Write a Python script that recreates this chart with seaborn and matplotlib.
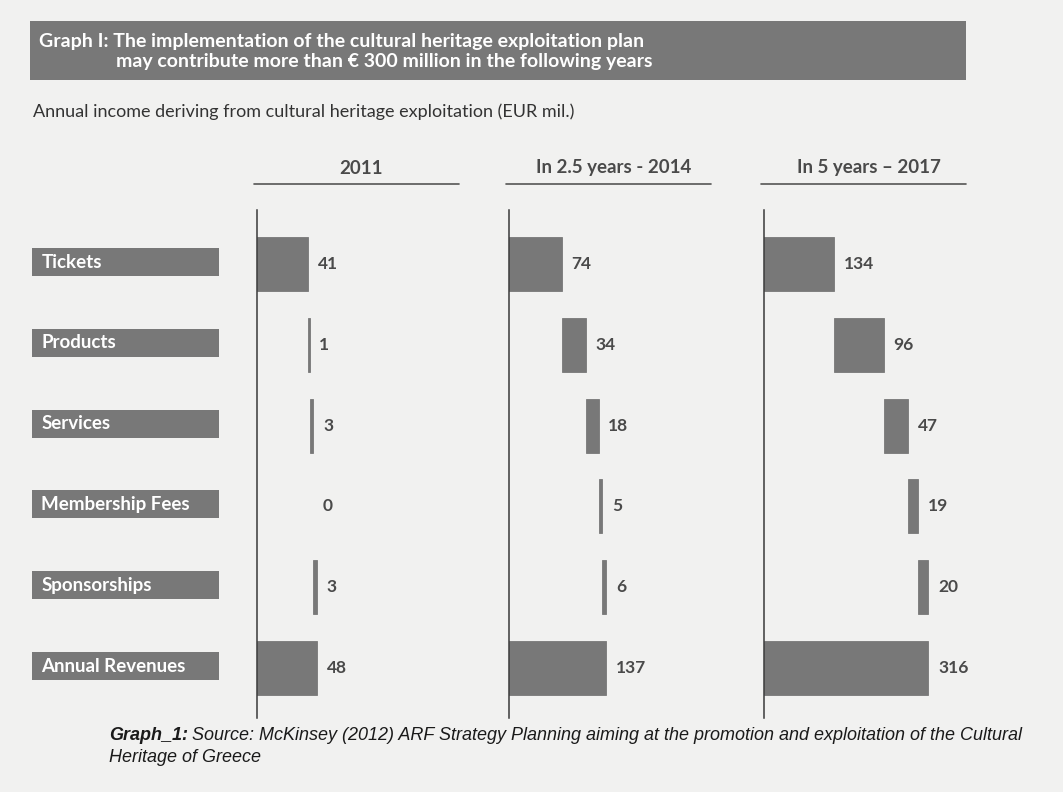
import numpy as np
import matplotlib
matplotlib.use('Agg')
import matplotlib.pyplot as plt
from matplotlib.patches import Rectangle
import seaborn as sns

# data
categories = ['Tickets', 'Products', 'Services', 'Membership Fees', 'Sponsorships', 'Annual Revenues']
periods = ['2011', 'In 2.5 years - 2014', 'In 5 years \u2013 2017']
v2011 = [41, 1, 3, 0, 3, 48]
v2014 = [74, 34, 18, 5, 6, 137]
v2017 = [134, 96, 47, 19, 20, 316]
series = [v2011, v2014, v2017]

# layout (pixel coordinates on a 1063x792 canvas)
W, H = 1063, 792
BG = '#f1f1f0'
GREY = '#787878'
TXT = '#4a4a4a'
panel_left = [257, 509, 764]
panel_w = 204
x_max = [163, 287, 392]          # per-panel scale, like the original
ax_top, ax_bot = 210, 718
row_top, row_step = 264, 80.8
ylim = (5 + (ax_bot - (row_top + 5 * row_step)) / row_step, -(row_top - ax_top) / row_step)

sns.set_theme(style='white')
plt.rcParams['font.family'] = ['Lato', 'DejaVu Sans']

fig = plt.figure(figsize=(W / 100, H / 100), dpi=100, facecolor=BG)


def fx(x):
    return x / W


def fy(y):
    return 1 - y / H


def px_axes(x0, y0, x1, y1):
    return fig.add_axes([fx(x0), fy(y1), fx(x1 - x0), (y1 - y0) / H])


# ── title banner ─────────────────────────────────────────────────────────────
fig.patches.append(Rectangle((fx(30), fy(80)), fx(936), 59 / H, transform=fig.transFigure,
                             facecolor=GREY, edgecolor='none'))
fig.text(fx(39), fy(41), 'Graph I: The implementation of the cultural heritage exploitation plan',
         color='white', fontsize=14, fontweight='bold', va='center')
fig.text(fx(116), fy(62), 'may contribute more than \u20ac 300 million in the following years',
         color='white', fontsize=14, fontweight='bold', va='center')
fig.text(fx(33), fy(112), 'Annual income deriving from cultural heritage exploitation (EUR mil.)',
         color='#333333', fontsize=13, va='center')

# ── category label boxes ────────────────────────────────────────────────────
ax_lab = px_axes(32, ax_top, 219, ax_bot)
ax_lab.set_xlim(0, 1)
ax_lab.set_ylim(*ylim)
ax_lab.axis('off')
box_h = 28 / row_step
for i, cat in enumerate(categories):
    yc = i - 2 / row_step
    ax_lab.add_patch(Rectangle((0, yc - box_h / 2), 1, box_h, facecolor=GREY, edgecolor='none'))
    ax_lab.text(0.05, yc, cat, color='white', fontsize=13.5, fontweight='bold', va='center')

# ── waterfall panels ────────────────────────────────────────────────────────
for p, (vals, title) in enumerate(zip(series, periods)):
    lefts = list(np.concatenate([[0], np.cumsum(vals[:-2])])) + [0]
    ax = px_axes(panel_left[p], ax_top, panel_left[p] + panel_w, ax_bot)
    sns.barplot(x=vals, y=categories, orient='h', left=lefts, color=GREY, saturation=1,
                width=54 / row_step, linewidth=0.6, edgecolor=GREY, ax=ax)
    for bar in ax.patches:
        if bar.get_width() == 0:
            bar.set_visible(False)
    for i, (lf, v) in enumerate(zip(lefts, vals)):
        ax.annotate(str(v), xy=(lf + v, i), xytext=(7, 0), textcoords='offset points',
                    va='center', ha='left', fontsize=12.5, fontweight='bold', color=TXT)
    ax.set_xlim(0, x_max[p])
    ax.set_ylim(*ylim)
    ax.set_facecolor('none')
    ax.set_xticks([])
    ax.set_yticks([])
    ax.set_xlabel('')
    ax.set_ylabel('')
    for s in ['top', 'right', 'bottom']:
        ax.spines[s].set_visible(False)
    ax.spines['left'].set_color('#3a3a3a')
    ax.spines['left'].set_linewidth(1.1)

    # column header with underline
    x0 = panel_left[p] - 3
    x1 = x0 + 205
    fig.text(fx((x0 + x1) / 2 + 5), fy(168), title, color=TXT, fontsize=13.5,
             fontweight='bold', ha='center', va='center')
    fig.lines.append(plt.Line2D([fx(x0), fx(x1)], [fy(184), fy(184)], transform=fig.transFigure,
                                color='#555555', linewidth=1.2))

# ── caption ─────────────────────────────────────────────────────────────────
cap_font = ['Liberation Sans', 'DejaVu Sans']
t = fig.text(fx(109), fy(735), 'Graph_1:', family=cap_font, fontsize=13, fontweight='bold',
             fontstyle='italic', color='#1a1a1a', va='center')
fig.canvas.draw()
bb = t.get_window_extent()
fig.text(bb.x1 / W + fx(4), fy(735),
         'Source: McKinsey (2012) ARF Strategy Planning aiming at the promotion and exploitation of the Cultural',
         family=cap_font, fontsize=13, fontstyle='italic', color='#1a1a1a', va='center')
fig.text(fx(109), fy(758), 'Heritage of Greece', family=cap_font, fontsize=13,
         fontstyle='italic', color='#1a1a1a', va='center')

fig.savefig('out.png', dpi=100, facecolor=BG)
